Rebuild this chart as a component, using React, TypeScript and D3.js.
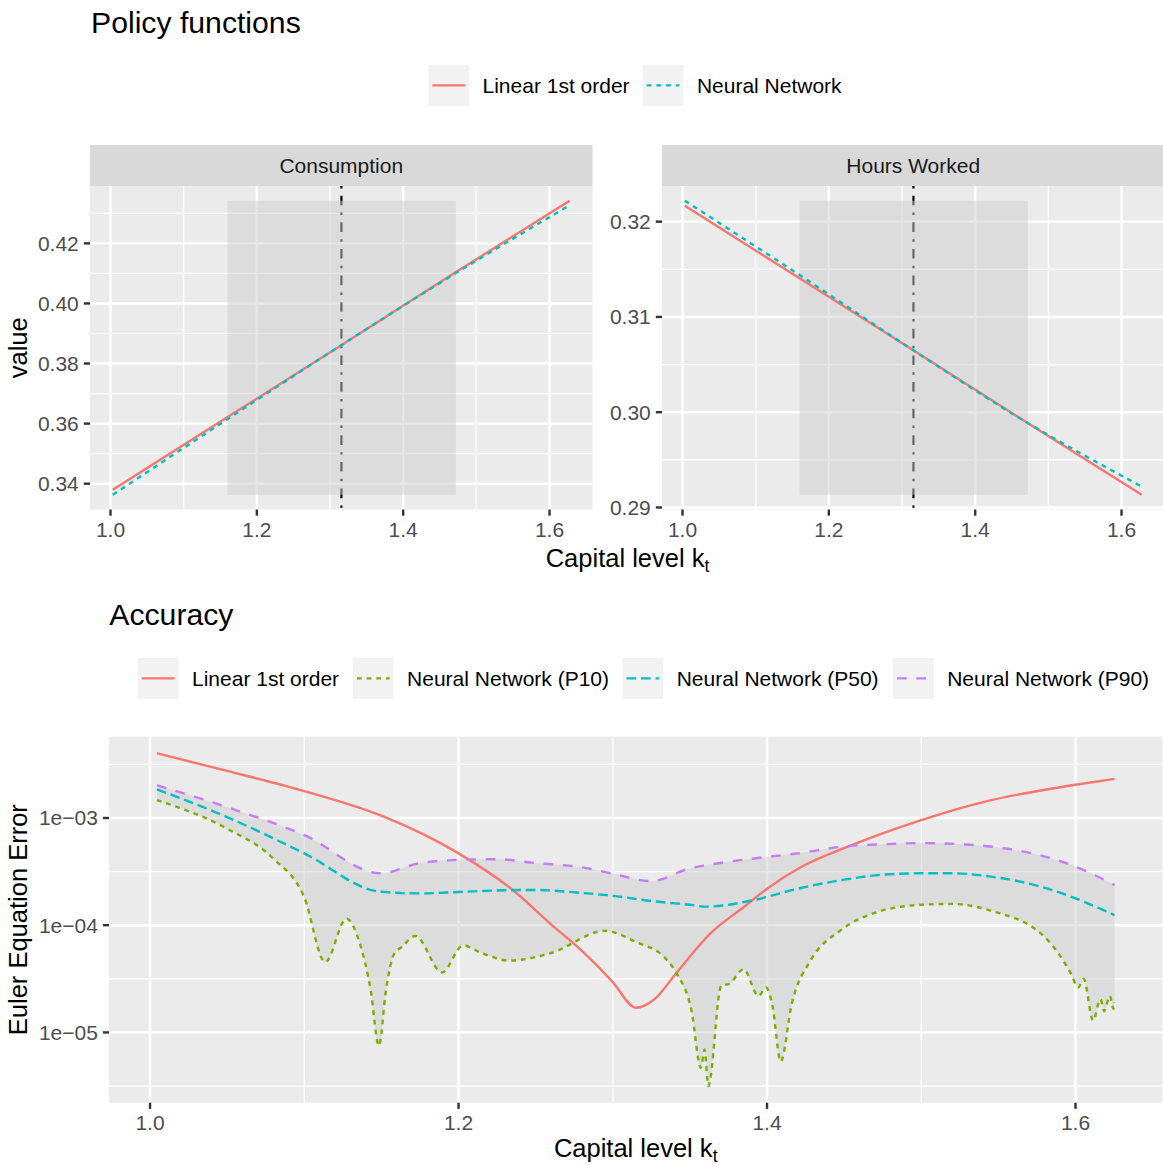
import React, { useEffect, useRef } from 'react';
import * as d3 from 'd3';

// ---- policy functions (top) ----
const policyK = [1.0032, 1.16, 1.3154, 1.47, 1.6275];
const consumptionLinear = [0.338, 0.3622, 0.3861, 0.4101, 0.4342];
const consumptionNN = [0.3363, 0.3615, 0.3861, 0.4098, 0.4327];
const hoursLinear = [0.32167, 0.31405, 0.3065, 0.29894, 0.29133];
const hoursNN = [0.3222, 0.3144, 0.3065, 0.29895, 0.2922];
const steadyStateK = 1.3156;
const ergodicBand = [1.16, 1.472];

// ---- Euler equation errors (bottom) ----
const linearK = [1.0045, 1.05, 1.1, 1.15, 1.2, 1.235, 1.26, 1.28, 1.3, 1.315, 1.327, 1.341, 1.363, 1.385, 1.4, 1.423, 1.452, 1.5, 1.544, 1.6, 1.6253];
const linearErr = [4.01e-3, 2.75e-3, 1.78e-3, 1.05e-3, 4.68e-4, 2.14e-4, 1.02e-4, 5.75e-5, 2.95e-5, 1.7e-5, 2.04e-5, 3.55e-5, 8.32e-5, 1.48e-4, 2.19e-4, 3.55e-4, 5.37e-4, 9.55e-4, 1.45e-3, 2.04e-3, 2.32e-3];

const nnK = [1.0045, 1.05, 1.1, 1.1495, 1.175, 1.2, 1.225, 1.25, 1.28, 1.3, 1.325, 1.35, 1.3607, 1.39, 1.42, 1.45, 1.475, 1.5, 1.52, 1.545, 1.575, 1.6, 1.6253];
const nnP90 = [2.02e-3, 1.26e-3, 6.92e-4, 3.05e-4, 3.8e-4, 4.07e-4, 4.13e-4, 3.8e-4, 3.47e-4, 3.02e-4, 2.58e-4, 3.39e-4, 3.63e-4, 4.17e-4, 4.68e-4, 5.43e-4, 5.69e-4, 5.83e-4, 5.75e-4, 5.42e-4, 4.57e-4, 3.52e-4, 2.37e-4];
const nnP50 = [1.85e-3, 1.02e-3, 4.68e-4, 2.05e-4, 1.98e-4, 2.04e-4, 2.11e-4, 2.13e-4, 2.0e-4, 1.88e-4, 1.68e-4, 1.55e-4, 1.49e-4, 1.7e-4, 2.19e-4, 2.66e-4, 2.96e-4, 3.05e-4, 3.05e-4, 2.84e-4, 2.34e-4, 1.78e-4, 1.24e-4];

const p10K = [1.0045, 1.05, 1.08, 1.1, 1.1136, 1.1273, 1.136, 1.143, 1.1484, 1.153, 1.1583, 1.1633, 1.172, 1.1893, 1.203, 1.215, 1.2327, 1.26, 1.2949, 1.315, 1.3342, 1.3414, 1.3511, 1.3571, 1.3595, 1.3619, 1.3704, 1.3752, 1.3848, 1.3945, 1.3993, 1.4035, 1.4089, 1.4161, 1.4282, 1.4475, 1.4716, 1.5, 1.52, 1.544, 1.58, 1.597, 1.6017, 1.6053, 1.6114, 1.6162, 1.6186, 1.6222, 1.6246, 1.6253];
const nnP10 = [1.47e-3, 7.94e-4, 4.17e-4, 1.82e-4, 4.53e-5, 1.15e-4, 6.76e-5, 2.51e-5, 7.5e-6, 2.51e-5, 5.42e-5, 6.27e-5, 7.94e-5, 3.63e-5, 6.46e-5, 5.5e-5, 4.68e-5, 5.5e-5, 8.85e-5, 6.98e-5, 4.9e-5, 3.55e-5, 1.58e-5, 4.68e-6, 6.92e-6, 3.16e-6, 2.75e-5, 2.82e-5, 3.89e-5, 2.19e-5, 2.63e-5, 1.78e-5, 5.37e-6, 1.86e-5, 4.68e-5, 8.91e-5, 1.33e-4, 1.55e-4, 1.58e-4, 1.38e-4, 7.76e-5, 3.55e-5, 2.63e-5, 3.16e-5, 1.29e-5, 2.04e-5, 1.58e-5, 2.19e-5, 1.66e-5, 1.91e-5];

// ---- axes / legend ----
const capitalTicks = [1.0, 1.2, 1.4, 1.6];
const capitalMinor = [1.1, 1.3, 1.5];
const consumptionTicks = [0.34, 0.36, 0.38, 0.4, 0.42];
const consumptionMinor = [0.35, 0.37, 0.39, 0.41, 0.43];
const hoursTicks = [0.29, 0.3, 0.31, 0.32];
const hoursMinor = [0.295, 0.305, 0.315];
const errorTicks = [1e-3, 1e-4, 1e-5];
const errorTickLabels = ['1e\u221203', '1e\u221204', '1e\u221205'];
const errorMinor = [Math.pow(10, -2.5), Math.pow(10, -3.5), Math.pow(10, -4.5), Math.pow(10, -5.5)];

const policyLegend = ['Linear 1st order', 'Neural Network'];
const accuracyLegend = ['Linear 1st order', 'Neural Network (P10)', 'Neural Network (P50)', 'Neural Network (P90)'];

const RED = '#F8766D';
const GREEN = '#7CAE00';
const CYAN = '#00BFC4';
const PURPLE = '#C77CFF';
const FONT = '"Liberation Sans", Arial, Helvetica, sans-serif';
const LW = 2.42; // one R lwd unit at this resolution
const SMALL = 21; // tick, legend, strip text
const AXIS_TITLE = 25.5;
const PLOT_TITLE = 30.2;

const expand = (ext: number[]) => {
  const r = ext[1] - ext[0];
  return [ext[0] - 0.05 * r, ext[1] + 0.05 * r];
};
const dashOf = (code: string) =>
  code === 'solid' ? null : code.split('').map(c => (+c * LW).toFixed(2)).join(',');

export default function App() {
  const svgRef = useRef<SVGSVGElement>(null);

  useEffect(() => {
    if (!svgRef.current) return;
    const svg = d3.select(svgRef.current);
    svg.selectAll('*').remove();

    // panel background + grid
    const panel = (x0, x1, y0, y1, xs, ys, xMaj, xMin, yMaj, yMin) => {
      const g = svg.append('g');
      g.append('rect').attr('x', x0).attr('y', y0).attr('width', x1 - x0).attr('height', y1 - y0).attr('fill', '#EBEBEB');
      const vline = (v, w) => g.append('line').attr('x1', xs(v)).attr('x2', xs(v)).attr('y1', y0).attr('y2', y1)
        .attr('stroke', '#fff').attr('stroke-width', w);
      const hline = (v, w) => g.append('line').attr('x1', x0).attr('x2', x1).attr('y1', ys(v)).attr('y2', ys(v))
        .attr('stroke', '#fff').attr('stroke-width', w);
      yMin.forEach(v => { const p = ys(v); if (p > y0 && p < y1) hline(v, 1.2); });
      xMin.forEach(v => { const p = xs(v); if (p > x0 && p < x1) vline(v, 1.2); });
      yMaj.forEach(v => hline(v, 2.4));
      xMaj.forEach(v => vline(v, 2.4));
      return g;
    };

    const xAxis = (xs, yBottom, ticks) => {
      ticks.forEach(t => {
        svg.append('line').attr('x1', xs(t)).attr('x2', xs(t)).attr('y1', yBottom).attr('y2', yBottom + 6.2)
          .attr('stroke', '#333333').attr('stroke-width', 2.4);
        svg.append('text').attr('x', xs(t)).attr('y', yBottom + 27.7).attr('text-anchor', 'middle')
          .attr('font-family', FONT).attr('font-size', SMALL).attr('fill', '#4D4D4D').text(d3.format('.1f')(t));
      });
    };
    const yAxis = (ys, xLeft, ticks, labels) => {
      ticks.forEach((t, i) => {
        svg.append('line').attr('x1', xLeft - 6.2).attr('x2', xLeft).attr('y1', ys(t)).attr('y2', ys(t))
          .attr('stroke', '#333333').attr('stroke-width', 2.4);
        svg.append('text').attr('x', xLeft - 11.2).attr('y', ys(t) + 7.4).attr('text-anchor', 'end')
          .attr('font-family', FONT).attr('font-size', SMALL).attr('fill', '#4D4D4D').text(labels[i]);
      });
    };

    const series = (g, xs, ys, xsData, ysData, color, lt, curve) => {
      const line = d3.line<number>().x((d, i) => xs(xsData[i])).y(d => ys(d)).curve(curve);
      g.append('path').attr('d', line(ysData)).attr('fill', 'none').attr('stroke', color)
        .attr('stroke-width', 2.4).attr('stroke-dasharray', dashOf(lt));
    };

    const legend = (keysX, y, labels, colors, lts) => {
      labels.forEach((lab, i) => {
        svg.append('rect').attr('x', keysX[i]).attr('y', y).attr('width', 40.8).attr('height', 40.8).attr('fill', '#F2F2F2');
        svg.append('line').attr('x1', keysX[i] + 4).attr('x2', keysX[i] + 36.8).attr('y1', y + 20.4).attr('y2', y + 20.4)
          .attr('stroke', colors[i]).attr('stroke-width', 2.4).attr('stroke-dasharray', dashOf(lts[i]));
        svg.append('text').attr('x', keysX[i] + 54.2).attr('y', y + 28).attr('font-family', FONT)
          .attr('font-size', SMALL).attr('fill', '#000').text(lab);
      });
    };

    const title = (x, y, txt) => svg.append('text').attr('x', x).attr('y', y).attr('font-family', FONT)
      .attr('font-size', PLOT_TITLE).attr('fill', '#000').text(txt);

    const capitalTitle = (cx, y) => {
      const t = svg.append('text').attr('x', cx).attr('y', y).attr('text-anchor', 'middle')
        .attr('font-family', FONT).attr('font-size', AXIS_TITLE).attr('fill', '#000');
      t.append('tspan').text('Capital level k');
      t.append('tspan').attr('font-size', 17.5).attr('dy', 5).text('t');
    };

    const yTitle = (x, cy, txt) => svg.append('text').attr('transform', `translate(${x},${cy}) rotate(-90)`)
      .attr('text-anchor', 'middle').attr('font-family', FONT).attr('font-size', AXIS_TITLE).attr('fill', '#000').text(txt);

    // ================= Policy functions =================
    title(91, 33.3, 'Policy functions');
    legend([428.3, 642.7], 65, policyLegend, [RED, CYAN], ['solid', '22']);

    const topY0 = 186, topY1 = 509.5;
    const facets = [
      { name: 'Consumption', x0: 90, x1: 592.5, lin: consumptionLinear, nn: consumptionNN, ticks: consumptionTicks, minor: consumptionMinor },
      { name: 'Hours Worked', x0: 662, x1: 1164.5, lin: hoursLinear, nn: hoursNN, ticks: hoursTicks, minor: hoursMinor },
    ];
    facets.forEach(f => {
      const xs = d3.scaleLinear().domain(expand(d3.extent(policyK) as number[])).range([f.x0, f.x1]);
      const yExt = d3.extent([...f.lin, ...f.nn]) as number[];
      const ys = d3.scaleLinear().domain(expand(yExt)).range([topY1, topY0]);
      // strip
      svg.append('rect').attr('x', f.x0).attr('y', 145).attr('width', f.x1 - f.x0).attr('height', topY0 - 145).attr('fill', '#D9D9D9');
      svg.append('text').attr('x', (f.x0 + f.x1) / 2).attr('y', 173.3).attr('text-anchor', 'middle')
        .attr('font-family', FONT).attr('font-size', SMALL).attr('fill', '#1A1A1A').text(f.name);
      const g = panel(f.x0, f.x1, topY0, topY1, xs, ys, capitalTicks, capitalMinor, f.ticks, f.minor);
      // steady state marker
      g.append('line').attr('x1', xs(steadyStateK)).attr('x2', xs(steadyStateK)).attr('y1', topY0).attr('y2', topY1)
        .attr('stroke', '#000').attr('stroke-width', 2.2).attr('stroke-dasharray', dashOf('1343'));
      // ergodic band
      g.append('rect').attr('x', xs(ergodicBand[0])).attr('width', xs(ergodicBand[1]) - xs(ergodicBand[0]))
        .attr('y', ys(yExt[1])).attr('height', ys(yExt[0]) - ys(yExt[1]))
        .attr('fill', '#CDCDCD').attr('fill-opacity', 0.5);
      series(g, xs, ys, policyK, f.lin, RED, 'solid', d3.curveLinear);
      series(g, xs, ys, policyK, f.nn, CYAN, '22', d3.curveMonotoneX);
      xAxis(xs, topY1, capitalTicks);
      yAxis(ys, f.x0, f.ticks, f.ticks.map(d3.format('.2f')));
    });
    yTitle(26.5, (topY0 + topY1) / 2, 'value');
    capitalTitle(627.5, 566.7);

    // ================= Accuracy =================
    title(109.3, 625, 'Accuracy');
    legend([137.8, 352.9, 622.5, 893], 658, accuracyLegend, [RED, GREEN, CYAN, PURPLE], ['solid', '22', '42', '44']);

    const bx0 = 109.1, bx1 = 1162.4, by0 = 736.7, by1 = 1102.7;
    const allK = [...linearK, ...nnK, ...p10K];
    const xb = d3.scaleLinear().domain(expand(d3.extent(allK) as number[])).range([bx0, bx1]);
    const allErr = [...linearErr, ...nnP90, ...nnP50, ...nnP10];
    const logExt = expand((d3.extent(allErr) as number[]).map(Math.log10));
    const yb = d3.scaleLog().domain([Math.pow(10, logExt[0]), Math.pow(10, logExt[1])]).range([by1, by0]);
    const gb = panel(bx0, bx1, by0, by1, xb, yb, capitalTicks, capitalMinor, errorTicks, errorMinor);

    // P10–P90 band
    const upper = d3.line<number>().x((d, i) => xb(nnK[i])).y(d => yb(d)).curve(d3.curveMonotoneX)(nnP90) as string;
    const revK = p10K.slice().reverse();
    const lower = d3.line<number>().x((d, i) => xb(revK[i])).y(d => yb(d)).curve(d3.curveMonotoneX)(nnP10.slice().reverse()) as string;
    gb.append('path').attr('d', upper + 'L' + lower.slice(1) + 'Z').attr('fill', '#CDCDCD').attr('fill-opacity', 0.5);

    series(gb, xb, yb, linearK, linearErr, RED, 'solid', d3.curveMonotoneX);
    series(gb, xb, yb, p10K, nnP10, GREEN, '22', d3.curveMonotoneX);
    series(gb, xb, yb, nnK, nnP50, CYAN, '42', d3.curveMonotoneX);
    series(gb, xb, yb, nnK, nnP90, PURPLE, '44', d3.curveMonotoneX);

    xAxis(xb, by1, capitalTicks);
    yAxis(yb, bx0, errorTicks, errorTickLabels);
    yTitle(26.5, (by0 + by1) / 2, 'Euler Equation Error');
    capitalTitle(635.7, 1156.5);
  }, []);

  return (
    <svg
      ref={svgRef}
      width={1163}
      height={1165}
      style={{ position: 'absolute', left: 0, top: 0, background: '#fff' }}
    />
  );
}
